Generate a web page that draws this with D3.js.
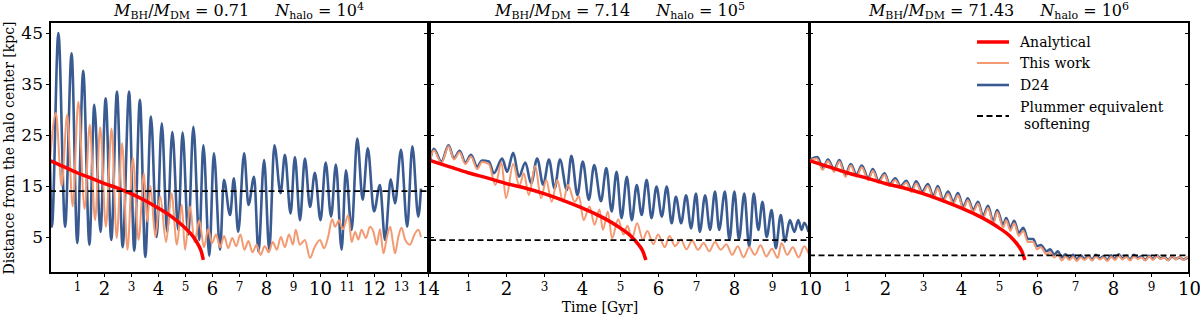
<!DOCTYPE html>
<html>
<head>
<meta charset="utf-8">
<script src="https://cdn.jsdelivr.net/npm/d3@7"></script>
<style>
  body { margin: 0; background: #fff; }
  svg text { font-family: "DejaVu Serif", serif; fill: #000; }
</style>
</head>
<body>
<div id="chart"></div>
<script>
// panel settings
const massRatios = ['0.71', '7.14', '71.43'];
const haloExponents = ['4', '5', '6'];
const timeMax = [14, 10, 10];
const softening = [14, 4.4, 1.4];
const yTicks = [5, 15, 25, 35, 45];

// Analytical decay (same in every panel) [time Gyr, distance kpc]
const analytical = [[0, 20], [0.5, 18.8], [1, 17.6], [1.5, 16.6], [2, 15.5], [2.5, 14.6], [3, 13.5],
  [3.5, 12.2], [4, 10.7], [4.5, 9], [5, 6.8], [5.3, 5.1], [5.5, 3.4], [5.6, 2.2], [5.68, 0.5]];

// D24, panel 1
const d24Panel1 = [[0, 20], [0.07, 7], [0.31, 45], [0.56, 7], [0.8, 41], [1.01, 3.8], [1.23, 37.6], [1.46, 3.5],
  [1.64, 30.9], [1.87, 6], [2.06, 32.2], [2.27, 4.4], [2.48, 33.5], [2.69, 3], [2.93, 33.5], [3.12, 2.3],
  [3.33, 31.9], [3.53, 1.1], [3.74, 28.6], [3.95, 5], [4.14, 27.3], [4.34, 6], [4.53, 25.6], [4.75, 6.4],
  [4.91, 25.5], [5.12, 5.5], [5.31, 26.6], [5.53, 4.4], [5.68, 23], [5.9, 1.3], [6.07, 21.4], [6.3, 2.5],
  [6.44, 16.2], [6.67, 9.3], [6.81, 16.5], [6.97, 6], [7.19, 21.4], [7.35, 11.3], [7.56, 16.8], [7.72, 2.1],
  [7.93, 20.1], [8.12, 2.5], [8.31, 23], [8.54, 13.6], [8.7, 21.1], [8.91, 9.6], [9.07, 20.7], [9.26, 8.3],
  [9.44, 20.4], [9.63, 10.9], [9.81, 17.6], [10.02, 8.3], [10.21, 19.6], [10.41, 9], [10.59, 19.2], [10.8, 2.5],
  [10.96, 18.1], [11.17, 6.4], [11.38, 24.3], [11.58, 12.3], [11.77, 22.4], [12.0, 10], [12.22, 15.2],
  [12.41, 4.4], [12.62, 16.3], [12.78, 11.6], [13.0, 22.1], [13.23, 7], [13.42, 22.8], [13.64, 9], [13.74, 14.5]];

// This work, panel 1
const thisWorkPanel1 = [[0, 20], [0.22, 29.3], [0.43, 15], [0.64, 29], [0.84, 11], [1.05, 31.5], [1.28, 10.5],
  [1.47, 27], [1.67, 8.3], [1.86, 26.5], [2.07, 7], [2.28, 26.3], [2.47, 4.8], [2.67, 23.4], [2.87, 2.5],
  [3.07, 20.5], [3.28, 4.4], [3.48, 17.5], [3.6, 8], [3.72, 15], [3.9, 5], [4.08, 13], [4.3, 4], [4.5, 13.6],
  [4.7, 3.5], [4.88, 11.3], [5.0, 2.5], [5.19, 11], [5.35, 4], [5.53, 8.3], [5.7, 3], [5.86, 6.5], [6.0, 3.8],
  [6.15, 5.5], [6.3, 3], [6.45, 5.2], [6.6, 2.8], [6.75, 4.8], [6.9, 3.2], [7.05, 5.5], [7.2, 2.5], [7.35, 4.2],
  [7.5, 2.0], [7.65, 3.5], [7.8, 1.5], [7.95, 3.2], [8.1, 2.0], [8.25, 4.0], [8.4, 2.5], [8.55, 5.0], [8.7, 3.0],
  [8.85, 5.5], [9.0, 3.5], [9.1, 6.4], [9.25, 3.5], [9.44, 4.4], [9.63, 0.9], [9.8, 3.0], [10.0, 4.4], [10.15, 2.8],
  [10.3, 5.0], [10.45, 8.5], [10.56, 7], [10.7, 8.3], [10.85, 6.5], [11.05, 9.3], [11.17, 4], [11.3, 6],
  [11.42, 4.5], [11.54, 6.4], [11.7, 4.8], [11.85, 7], [11.98, 6], [12.1, 3.5], [12.22, 6.5], [12.35, 1.8],
  [12.48, 5], [12.6, 7], [12.7, 4], [12.78, 1.8], [12.9, 5], [13.02, 6.8], [13.15, 4.5], [13.33, 3.5],
  [13.5, 5.5], [13.64, 6.4], [13.74, 5]];

// D24, panel 2
const d24Panel2 = [[0, 20], [0.1, 22.3], [0.3, 19.8], [0.49, 23], [0.63, 20.4], [0.78, 21.9], [0.93, 19.6],
  [1.08, 21.1], [1.24, 18.8], [1.37, 20], [1.55, 19.8], [1.68, 17.5], [1.9, 20.4], [2.03, 17.8], [2.19, 21.5],
  [2.34, 16.8], [2.51, 19.6], [2.66, 15.5], [2.82, 20.4], [2.98, 15.2], [3.13, 20.2], [3.28, 14.5], [3.42, 20.2],
  [3.6, 14.2], [3.72, 20.9], [3.88, 13.2], [4.02, 19.8], [4.18, 12.3], [4.32, 19.1], [4.5, 12], [4.64, 18.5],
  [4.78, 10], [4.91, 17.8], [5.04, 8.7], [5.18, 16.8], [5.31, 8.3], [5.44, 15.2], [5.57, 9.3], [5.7, 16.2],
  [5.83, 8.7], [5.96, 14.9], [6.1, 9], [6.23, 14.9], [6.36, 7.7], [6.47, 12.9], [6.61, 7.7], [6.74, 13.2],
  [6.87, 6.7], [7.0, 13.5], [7.1, 6], [7.24, 13.2], [7.37, 6.4], [7.5, 13.9], [7.61, 6.4], [7.76, 13.9],
  [7.88, 4.4], [8.01, 13.9], [8.13, 4.5], [8.27, 13.5], [8.4, 3.1], [8.52, 13.5], [8.64, 6.4], [8.75, 11.9],
  [8.86, 5], [8.99, 10.3], [9.1, 2.8], [9.23, 9.3], [9.34, 4.1], [9.47, 8.3], [9.59, 6], [9.69, 8.3],
  [9.78, 6.4], [9.85, 7.8], [9.96, 6]];

// This work, panel 2
const thisWorkPanel2 = [[0, 20], [0.1, 22], [0.3, 19.5], [0.49, 22.8], [0.63, 20.2], [0.78, 21.6], [0.93, 19.3],
  [1.08, 20.8], [1.24, 18.3], [1.37, 19.7], [1.55, 19.3], [1.72, 15.2], [1.88, 19.6], [2.0, 12.6], [2.19, 19.3],
  [2.35, 15], [2.47, 17.5], [2.6, 13.2], [2.77, 18.9], [2.92, 12.6], [3.06, 16.2], [3.2, 11.9], [3.35, 16.2],
  [3.5, 11.9], [3.63, 15.2], [3.81, 11.9], [3.92, 13], [4.04, 8.3], [4.2, 11], [4.33, 7.4], [4.46, 10.4],
  [4.55, 6.4], [4.68, 10], [4.79, 4.7], [4.95, 8.5], [5.09, 5.5], [5.2, 7.2], [5.31, 4.5], [5.45, 7.7],
  [5.6, 4.5], [5.72, 6.2], [5.88, 3.6], [6.0, 5.5], [6.18, 3.0], [6.3, 5.2], [6.45, 3.2], [6.6, 4.5],
  [6.75, 2.6], [6.9, 4.3], [7.05, 2.5], [7.2, 3.8], [7.35, 2.2], [7.5, 4.0], [7.65, 2.5], [7.8, 3.6],
  [7.95, 1.5], [8.1, 3.2], [8.25, 1.0], [8.4, 3.0], [8.55, 1.5], [8.7, 3.4], [8.85, 1.2], [9.0, 2.7],
  [9.15, 0.9], [9.25, 3.8], [9.4, 1.5], [9.55, 3.0], [9.7, 1.0], [9.85, 3.2], [9.96, 1.8]];

// D24, panel 3
const d24Panel3 = [[0, 20], [0.22, 20.7], [0.37, 18.5], [0.5, 20.2], [0.66, 18.2], [0.8, 20.1], [0.96, 17.2],
  [1.1, 19.3], [1.25, 17.2], [1.39, 19], [1.56, 16.5], [1.68, 18.3], [1.83, 16], [1.99, 17.5], [2.12, 15.3],
  [2.27, 16.5], [2.41, 15], [2.56, 16], [2.7, 14.2], [2.82, 15.9], [2.98, 13.9], [3.13, 15.4], [3.27, 13],
  [3.39, 15], [3.53, 12.3], [3.66, 13.9], [3.8, 11.9], [3.92, 13.6], [4.06, 10.9], [4.18, 12.6], [4.32, 10.3],
  [4.45, 11.9], [4.58, 9.1], [4.71, 11.1], [4.85, 8], [4.95, 10.3], [5.11, 7.4], [5.19, 8.7], [5.3, 6.8],
  [5.4, 8.2], [5.52, 5.8], [5.64, 6.8], [5.76, 4.6], [5.9, 4.6], [6.0, 3.2], [6.1, 3.4], [6.25, 2.2],
  [6.35, 2.6], [6.45, 1.5], [6.55, 2.2], [6.65, 1.0], [6.75, 1.6], [6.85, 0.8], [6.95, 1.5], [7.05, 0.6],
  [7.15, 1.4], [7.25, 0.7], [7.35, 1.3], [7.45, 0.6], [7.55, 1.5], [7.65, 0.8], [7.75, 1.2], [7.85, 0.5],
  [7.95, 1.4], [8.05, 0.7], [8.15, 1.6], [8.25, 0.8], [8.35, 1.3], [8.45, 0.6], [8.55, 1.5], [8.65, 0.9],
  [8.75, 1.2], [8.85, 0.5], [8.95, 1.3], [9.05, 0.7], [9.15, 1.4], [9.25, 0.8], [9.35, 1.1], [9.45, 0.5],
  [9.55, 1.2], [9.65, 0.7], [9.75, 1.0], [9.85, 0.6], [9.97, 1.0]];

// This work, panel 3
const thisWorkPanel3 = [[0, 20], [0.2, 20.4], [0.36, 18.2], [0.5, 19.9], [0.66, 17.8], [0.8, 19.8], [0.96, 16.8],
  [1.1, 19.0], [1.25, 16.8], [1.39, 18.7], [1.56, 16.1], [1.68, 18.0], [1.83, 15.6], [1.99, 17.2], [2.12, 15.0],
  [2.27, 16.2], [2.41, 14.6], [2.56, 15.7], [2.7, 13.8], [2.82, 15.5], [2.98, 13.5], [3.13, 15.0], [3.27, 12.6],
  [3.39, 14.6], [3.53, 11.9], [3.66, 13.5], [3.8, 11.5], [3.92, 13.2], [4.06, 10.5], [4.18, 12.2], [4.32, 9.9],
  [4.45, 11.5], [4.58, 8.7], [4.71, 10.7], [4.85, 7.6], [4.95, 9.9], [5.11, 6.9], [5.19, 8.3], [5.3, 6.2],
  [5.4, 7.7], [5.52, 5.2], [5.64, 6.2], [5.76, 4.0], [5.9, 4.0], [6.0, 2.6], [6.1, 3.0], [6.25, 1.6],
  [6.35, 2.0], [6.45, 1.0], [6.55, 1.6], [6.65, 0.4], [6.75, 1.2], [6.85, 0.5], [6.95, 1.1], [7.05, 0.3],
  [7.15, 1.0], [7.25, 0.5], [7.35, 1.1], [7.45, 0.4], [7.55, 1.2], [7.65, 0.6], [7.75, 1.0], [7.85, 0.3],
  [7.95, 1.1], [8.05, 0.5], [8.15, 1.3], [8.25, 0.6], [8.35, 1.1], [8.45, 0.4], [8.55, 1.2], [8.65, 0.7],
  [8.75, 1.0], [8.85, 0.4], [8.95, 1.2], [9.05, 0.5], [9.15, 1.3], [9.25, 0.7], [9.35, 1.0], [9.45, 0.4],
  [9.55, 1.3], [9.65, 0.6], [9.75, 1.1], [9.85, 0.5], [9.97, 1.2]];

const d24Series = [d24Panel1, d24Panel2, d24Panel3];
const thisWorkSeries = [thisWorkPanel1, thisWorkPanel2, thisWorkPanel3];

const legendItems = ['Analytical', 'This work', 'D24', 'Plummer equivalent'];

const colors = { analytical: '#ff0000', thisWork: '#f39a72', d24: '#3a5b91' };

const width = 1200, height = 315;
const plotTop = 22, plotBottom = 273;
const panelLeft = [50, 430, 809];
const panelRight = [428, 810, 1189];

const svg = d3.select('#chart').append('svg')
    .attr('width', width)
    .attr('height', height);

const y = d3.scaleLinear().domain([-2.06, 47.16]).range([plotBottom, plotTop]);

panelLeft.forEach((left, i) => {
    const x = d3.scaleLinear().domain([0, timeMax[i]]).range([left, panelRight[i]]);
    const g = svg.append('g');

    const clipId = 'clip' + i;
    g.append('clipPath').attr('id', clipId)
        .append('rect')
        .attr('x', left).attr('y', plotTop)
        .attr('width', panelRight[i] - left).attr('height', plotBottom - plotTop);

    const line = d3.line()
        .x(d => x(d[0]))
        .y(d => y(d[1]))
        .curve(d3.curveMonotoneX);

    const plot = g.append('g').attr('clip-path', `url(#${clipId})`);

    plot.append('path')
        .attr('d', line(d24Series[i]))
        .attr('fill', 'none')
        .attr('stroke', colors.d24)
        .attr('stroke-width', 2.6)
        .attr('stroke-linejoin', 'round');

    plot.append('path')
        .attr('d', line(thisWorkSeries[i]))
        .attr('fill', 'none')
        .attr('stroke', colors.thisWork)
        .attr('stroke-width', 2)
        .attr('stroke-linejoin', 'round');

    plot.append('path')
        .attr('d', line(analytical))
        .attr('fill', 'none')
        .attr('stroke', colors.analytical)
        .attr('stroke-width', 3.5);

    // softening level
    plot.append('line')
        .attr('x1', x(0)).attr('x2', x(timeMax[i]))
        .attr('y1', y(softening[i])).attr('y2', y(softening[i]))
        .attr('stroke', '#000')
        .attr('stroke-width', 1.8)
        .attr('stroke-dasharray', '6,3.5');

    // x axis
    const xAxis = g.append('g')
        .attr('transform', `translate(0,${plotBottom})`)
        .call(d3.axisBottom(x)
            .tickValues(d3.range(1, timeMax[i] + 1))
            .tickSize(4)
            .tickPadding(5)
            .tickFormat(d3.format('d')));
    xAxis.select('.domain').remove();
    xAxis.selectAll('line').attr('stroke', '#000');
    xAxis.selectAll('text')
        .style('font-family', '"DejaVu Serif", serif')
        .style('font-size', d => (d % 2 === 0 ? '18px' : '12px'));

    // y ticks (labels only on the first panel)
    const yAxisLeft = g.append('g')
        .attr('transform', `translate(${left},0)`)
        .call(d3.axisLeft(y)
            .tickValues(yTicks)
            .tickSize(i === 0 ? 4 : -4)
            .tickPadding(3)
            .tickFormat(i === 0 ? d3.format('d') : ''));
    yAxisLeft.select('.domain').remove();
    yAxisLeft.selectAll('text')
        .style('font-family', '"DejaVu Serif", serif')
        .style('font-size', '17px');

    const yAxisRight = g.append('g')
        .attr('transform', `translate(${panelRight[i]},0)`)
        .call(d3.axisRight(y).tickValues(yTicks).tickSize(-4).tickFormat(''));
    yAxisRight.select('.domain').remove();

    // frame
    g.append('rect')
        .attr('x', left).attr('y', plotTop)
        .attr('width', panelRight[i] - left).attr('height', plotBottom - plotTop)
        .attr('fill', 'none')
        .attr('stroke', '#000')
        .attr('stroke-width', 2);

    // title
    const title = g.append('text')
        .attr('x', (left + panelRight[i]) / 2)
        .attr('y', 16)
        .attr('text-anchor', 'middle')
        .style('font-size', '16px');
    title.append('tspan').attr('font-style', 'italic').text('M');
    title.append('tspan').attr('dy', 3).style('font-size', '11px').text('BH');
    title.append('tspan').attr('dy', -3).text('/');
    title.append('tspan').attr('font-style', 'italic').text('M');
    title.append('tspan').attr('dy', 3).style('font-size', '11px').text('DM');
    title.append('tspan').attr('dy', -3).text(' = ' + massRatios[i]);
    title.append('tspan').attr('dx', 26).attr('font-style', 'italic').text('N');
    title.append('tspan').attr('dy', 3).style('font-size', '11px').text('halo');
    title.append('tspan').attr('dy', -3).text(' = 10');
    title.append('tspan').attr('dy', -6).style('font-size', '11px').text(haloExponents[i]);
});

// axis labels
svg.append('text')
    .attr('transform', 'translate(13.5,148) rotate(-90)')
    .attr('text-anchor', 'middle')
    .style('font-size', '14px')
    .text('Distance from the halo center [kpc]');

svg.append('text')
    .attr('x', 600)
    .attr('y', 312)
    .attr('text-anchor', 'middle')
    .style('font-size', '14px')
    .text('Time [Gyr]');

// legend in the last panel
const legend = svg.append('g');
const legendStyles = [
    { color: colors.analytical, width: 3.5, dash: null },
    { color: colors.thisWork, width: 2, dash: null },
    { color: colors.d24, width: 2.6, dash: null },
    { color: '#000', width: 1.8, dash: '6,3.5' }
];
const legendY = [42, 63, 85, 116];
legendItems.forEach((name, i) => {
    legend.append('line')
        .attr('x1', 977).attr('x2', 1009)
        .attr('y1', legendY[i]).attr('y2', legendY[i])
        .attr('stroke', legendStyles[i].color)
        .attr('stroke-width', legendStyles[i].width)
        .attr('stroke-dasharray', legendStyles[i].dash);
    legend.append('text')
        .attr('x', 1020)
        .attr('y', i < 3 ? legendY[i] + 5 : 112)
        .style('font-size', '14px')
        .text(name);
    if (i === 3) {
        legend.append('text')
            .attr('x', 1024)
            .attr('y', 129)
            .style('font-size', '14px')
            .text('softening');
    }
});
</script>
</body>
</html>
